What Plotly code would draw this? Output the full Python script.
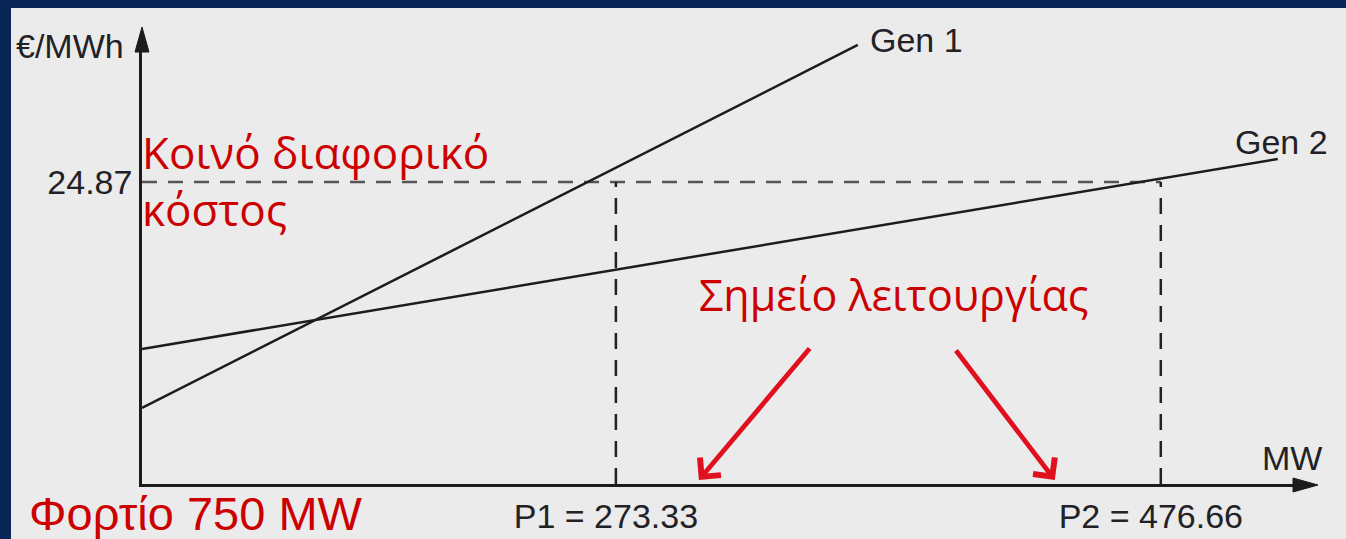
import plotly.graph_objects as go

# schematic: two generators' incremental cost curves, 750 MW load
gen1_mw = [96.5, 363.6]
gen1_cost = [6.26, 36.15]
gen2_mw = [96.5, 520.3]
gen2_cost = [11.12, 26.76]

p1 = 273.33
p2 = 476.66
lam = 24.87

x_range = [96.5, 528.6]
y_range = [0, 36.56]

# red pointer arrows (tail -> head), in MW / EUR/MWh
arrow_tail_mw = [346.1, 399.8]
arrow_tail_cost = [11.28, 11.12]
arrow_head_mw = [304.3, 437.1]
arrow_head_cost = [0.33, 0.33]

W, H = 1346, 539
L, R, T, B = 142, 46, 40, 55
PW, PH = W - L - R, H - T - B


def px(x):
    return (x - L) / PW


def py(y):
    return (H - B - y) / PH


black = "#1c1c1c"
txt = "#222226"
red = "#cc0000"
arrow_red = "#e0101f"
panel = "#ebebeb"
blue = "#0a2656"

fig = go.Figure()

# dashed guide lines
fig.add_trace(go.Scatter(x=[x_range[0], p2], y=[lam, lam], mode="lines",
                         line=dict(color="#555555", width=2.5, dash="15px,11px"),
                         hoverinfo="skip"))
for p in [p1, p2]:
    fig.add_trace(go.Scatter(x=[p, p], y=[0, lam], mode="lines",
                             line=dict(color="#222222", width=2.5, dash="16px,11px"),
                             hoverinfo="skip"))

fig.add_trace(go.Scatter(x=gen1_mw, y=gen1_cost, mode="lines",
                         line=dict(color=black, width=2.5), name="Gen 1"))
fig.add_trace(go.Scatter(x=gen2_mw, y=gen2_cost, mode="lines",
                         line=dict(color=black, width=2.5), name="Gen 2"))

black_font = dict(family="Liberation Sans, Arial", size=34, color=txt)
red_font = dict(family="Open Sans", size=44, color=red)

ann = [
    dict(x=gen1_mw[1], y=gen1_cost[1], xref="x", yref="y", text="Gen 1",
         xanchor="left", yanchor="middle", xshift=10, yshift=5, font=black_font),
    dict(x=gen2_mw[1], y=gen2_cost[1], xref="x", yref="y", text="Gen 2",
         xanchor="center", yanchor="middle", xshift=4, yshift=17, font=black_font),
    dict(x=px(126), y=py(46), xref="paper", yref="paper", text="€/MWh",
         xanchor="right", yanchor="middle", font=black_font),
    dict(x=px(1324), y=py(458), xref="paper", yref="paper", text="MW",
         xanchor="right", yanchor="middle", font=black_font),
    dict(x=px(140), y=py(180), xref="paper", yref="paper",
         text="Κοινό διαφορικό<br>κόστος", align="left",
         xanchor="left", yanchor="middle", font=red_font),
    dict(x=px(697), y=py(294), xref="paper", yref="paper", text="Σημείο λειτουργίας",
         xanchor="left", yanchor="middle", font=dict(red_font, size=43)),
    dict(x=px(27), y=py(513), xref="paper", yref="paper", text="Φορτίο 750 MW",
         xanchor="left", yanchor="middle",
         font=dict(family="Liberation Sans, Arial", size=47, color=red)),
]
for a in ann:
    a["showarrow"] = False
for hx, hy, tx, ty in zip(arrow_head_mw, arrow_head_cost, arrow_tail_mw, arrow_tail_cost):
    ann.append(dict(x=hx, y=hy, ax=tx, ay=ty, xref="x", yref="y", axref="x", ayref="y",
                    text="", showarrow=True, arrowhead=4, arrowsize=1.1,
                    arrowwidth=4.8, arrowcolor=arrow_red, standoff=0))

shapes = [
    # light panel over the blue slide background
    dict(type="rect", xref="paper", yref="paper", x0=px(11), x1=px(W + 4),
         y0=py(H + 4), y1=py(8), fillcolor=panel, line_width=0, layer="below"),
    # axis arrowheads
    dict(type="path", xref="paper", yref="paper",
         path=f"M {px(142)} {py(27)} L {px(135)} {py(52)} L {px(149)} {py(52)} Z",
         fillcolor=black, line=dict(color=black, width=1)),
    dict(type="path", xref="paper", yref="paper",
         path=f"M {px(1318)} {py(485)} L {px(1293)} {py(478)} L {px(1293)} {py(492)} Z",
         fillcolor=black, line=dict(color=black, width=1)),
]

fig.update_layout(
    width=W, height=H,
    margin=dict(l=L, r=R, t=T, b=B, autoexpand=False),
    paper_bgcolor=blue,
    plot_bgcolor=panel,
    showlegend=False,
    annotations=ann,
    shapes=shapes,
    xaxis=dict(range=x_range, showgrid=False, zeroline=False, showline=True,
               linecolor=black, linewidth=2.5, ticks="", automargin=False,
               tickvals=[p1, p2], ticktext=[f"P1 = {p1}", f"P2 = {p2}"],
               tickfont=black_font, ticklabelshift=-10, ticklabelstandoff=0,
               fixedrange=True),
    yaxis=dict(range=y_range, showgrid=False, zeroline=False, showline=True,
               linecolor=black, linewidth=2.5, ticks="", automargin=False,
               tickvals=[lam], ticktext=[f"{lam}"],
               tickfont=black_font, fixedrange=True),
)

page_css = ("document.documentElement.style.overflow='hidden';"
            "document.body.style.overflow='hidden';"
            "document.body.style.margin='0px';"
            f"document.body.style.background='{blue}';")
fig.write_html("out.html", post_script=page_css,
               config={"responsive": False, "displayModeBar": False})
